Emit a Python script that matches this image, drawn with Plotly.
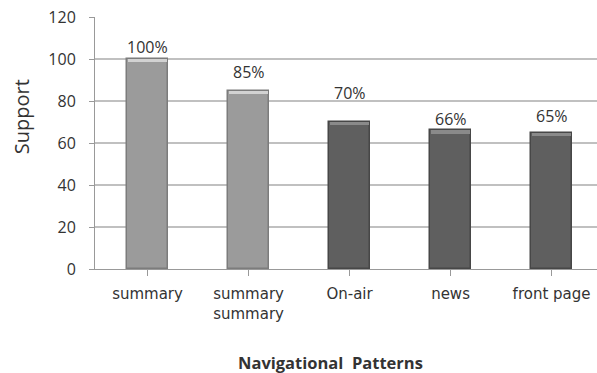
import plotly.graph_objects as go

# Navigational pattern support values
categories = ["summary", "summary<br>summary", "On-air", "news", "front page"]
support = [100, 85, 70, 66, 65]
value_labels = ["100%", "85%", "70%", "66%", "65%"]
label_lift = [-1, 6, 16, -2, 4]          # pixels above bar top for each label
fill_colors = ["#9b9b9b", "#9b9b9b", "#5f5f5f", "#5f5f5f", "#5f5f5f"]
edge_colors = ["#7c7c7c", "#7c7c7c", "#474747", "#474747", "#474747"]
cap_colors = ["#d2d2d2", "#d2d2d2", "#8a8a8a", "#8a8a8a", "#8a8a8a"]
y_ticks = [0, 20, 40, 60, 80, 100, 120]

FONT = "Open Sans"
XFONT = "DejaVu Sans"
TEXT = "#333333"
cap_h = 1.6

fig = go.Figure()

# Main bar body
fig.add_trace(go.Bar(
    x=list(range(len(categories))),
    y=support,
    width=0.4,
    marker=dict(color=fill_colors, line=dict(color=edge_colors, width=1.5)),
    hoverinfo="skip",
))

# Lighter bevel at the top of each bar
fig.add_trace(go.Bar(
    x=list(range(len(categories))),
    y=[cap_h] * len(support),
    base=[v - cap_h for v in support],
    width=0.38,
    marker=dict(color=cap_colors, line=dict(width=0)),
    hoverinfo="skip",
))

for i, (v, lab, lift) in enumerate(zip(support, value_labels, label_lift)):
    fig.add_annotation(
        x=i, y=v, text=lab, showarrow=False,
        yanchor="bottom", yshift=lift,
        font=dict(family=FONT, size=16, color=TEXT),
    )

# Axis titles
fig.add_annotation(
    x=0.47, xref="paper", y=-0.373, yref="paper",
    xanchor="center", yanchor="middle",
    text="<b>Navigational  Patterns</b>", showarrow=False,
    font=dict(family=FONT, size=16.5, color=TEXT),
)
fig.add_annotation(
    x=-0.147, xref="paper", y=0.603, yref="paper",
    xanchor="center", yanchor="middle", textangle=-90,
    text="Support", showarrow=False,
    font=dict(family=FONT, size=20, color=TEXT),
)

fig.update_layout(
    width=597, height=373,
    margin=dict(l=95, r=0, t=17, b=104),
    paper_bgcolor="white", plot_bgcolor="white",
    barmode="overlay",
    showlegend=False,
    bargap=0,
)

fig.update_xaxes(
    range=[-0.52, 4.45],
    tickmode="array",
    tickvals=list(range(len(categories))),
    ticktext=categories,
    ticks="outside", ticklen=6, tickcolor="#999999",
    tickson="boundaries",
    ticklabelstandoff=5,
    showline=True, linecolor="#999999", linewidth=1,
    showgrid=False,
    tickfont=dict(family=XFONT, size=15, color=TEXT),
)

fig.update_yaxes(
    range=[0, 120],
    tickvals=y_ticks,
    ticks="outside", ticklen=5, tickcolor="#999999",
    ticklabelstandoff=10,
    showline=True, linecolor="#999999", linewidth=1,
    showgrid=True, gridcolor="#c0c0c0", gridwidth=1.5,
    zeroline=False,
    tickfont=dict(family=FONT, size=16, color=TEXT),
)

fig.write_html("out.html")
